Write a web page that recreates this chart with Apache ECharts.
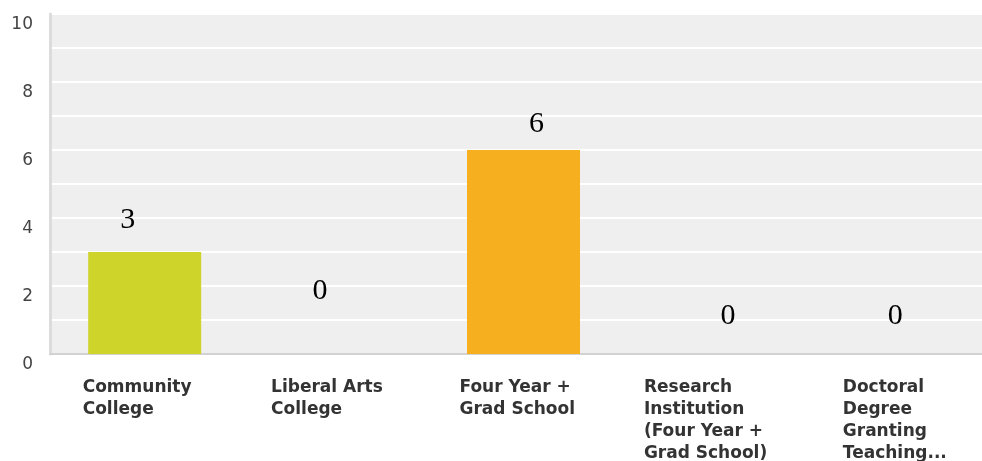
<!DOCTYPE html>
<html>
<head>
<meta charset="utf-8">
<style>
  html, body { margin: 0; padding: 0; background: #ffffff; }
  #chart { width: 982px; height: 461px; }
</style>
<script src="https://cdn.jsdelivr.net/npm/echarts@6/dist/echarts.min.js"></script>
</head>
<body>
<div id="chart"></div>
<script>
// Institution types (axis labels wrapped as shown under each bar)
const categories = [
  'Community\nCollege',
  'Liberal Arts\nCollege',
  'Four Year +\nGrad School',
  'Research\nInstitution\n(Four Year +\nGrad School)',
  'Doctoral\nDegree\nGranting\nTeaching...'
];
// Number of responses per institution type
const counts = [3, 0, 6, 0, 0];
// Value axis ticks
const yTicks = [0, 2, 4, 6, 8, 10];

// Styling, kept apart from the data
const barColors = ['#cfd42a', '#cfd42a', '#f6b01f', '#f6b01f', '#f6b01f'];
const valueLabelShift = [[-17, -17], [-14, -48], [13, -11], [15, -23], [-7, -23]];
const labelBoxWidths = [124, 126, 128, 138, 119];

const chart = echarts.init(document.getElementById('chart'), null, { renderer: 'canvas' });

const seriesData = counts.map((v, i) => ({
  value: v,
  itemStyle: { color: barColors[i] },
  label: { offset: valueLabelShift[i] }
}));

// One rich style per category so each wrapped label block keeps its own width
const labelRich = {};
labelBoxWidths.forEach((w, i) => {
  labelRich['c' + i] = {
    width: w, align: 'left',
    fontFamily: 'DejaVu Sans', fontWeight: 'bold', fontSize: 17,
    lineHeight: 22, color: '#333333'
  };
});

chart.setOption({
  animation: false,
  backgroundColor: '#ffffff',
  grid: {
    left: 50, top: 14, width: 947, height: 340,
    outerBoundsMode: 'none',
    containLabel: false,
    show: true, backgroundColor: '#efefef', borderWidth: 0
  },
  xAxis: {
    type: 'category',
    data: categories,
    axisLine: { show: true, lineStyle: { color: '#d2d2d2', width: 2 } },
    axisTick: { show: false },
    splitLine: { show: false },
    axisLabel: {
      interval: 0,
      margin: 23,
      formatter: (v, i) => v.split('\n').map(s => '{c' + i + '|' + s + '}').join('\n'),
      rich: labelRich
    }
  },
  yAxis: {
    type: 'value',
    min: yTicks[0],
    max: yTicks[yTicks.length - 1],
    interval: yTicks[1] - yTicks[0],
    axisLine: { show: true, lineStyle: { color: '#dcdcdc', width: 3 } },
    axisTick: { show: false },
    splitLine: { show: true, lineStyle: { color: '#ffffff', width: 2 } },
    minorTick: { show: false, splitNumber: 2 },
    minorSplitLine: { show: true, lineStyle: { color: '#ffffff', width: 2 } },
    axisLabel: {
      margin: 17,
      verticalAlign: 'top',
      lineHeight: 22,
      fontFamily: 'DejaVu Sans', fontSize: 17, color: '#444444'
    }
  },
  series: [{
    type: 'bar',
    data: seriesData,
    barWidth: 113,
    label: {
      show: true,
      position: 'top',
      distance: 0,
      fontFamily: 'Liberation Serif', fontSize: 30, color: '#000000',
      formatter: (p) => String(p.value)
    }
  }]
});
</script>
</body>
</html>
